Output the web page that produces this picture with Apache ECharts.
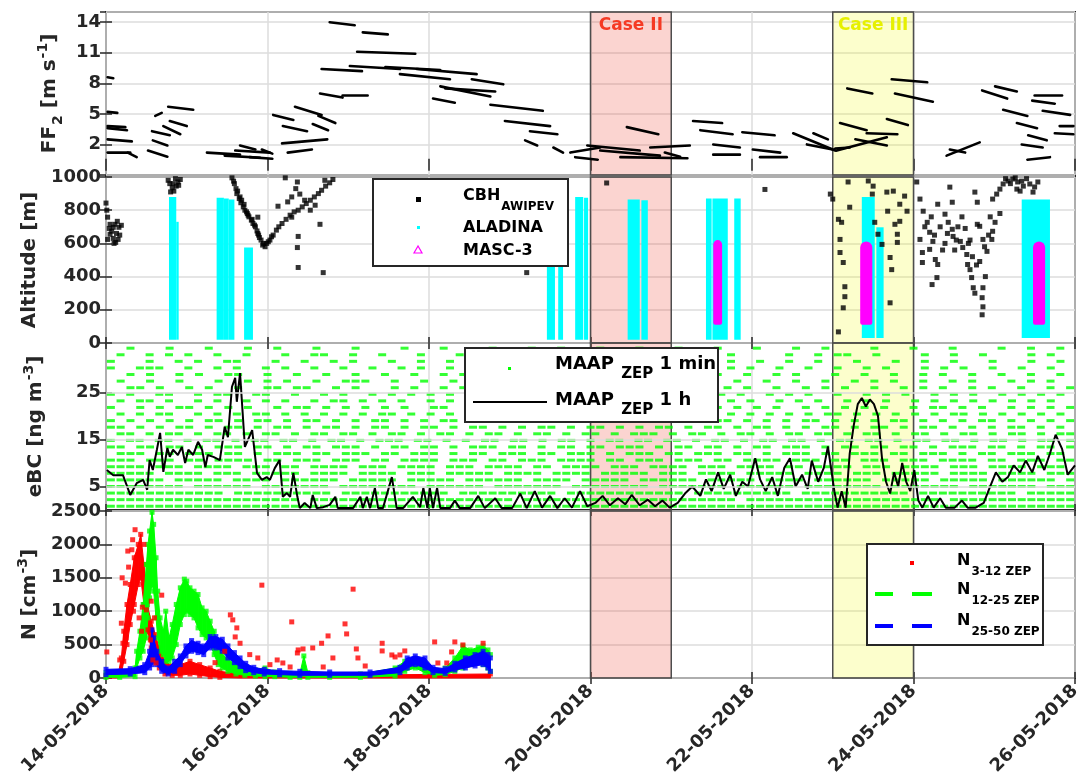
<!DOCTYPE html>
<html><head><meta charset="utf-8">
<script src="https://cdn.jsdelivr.net/npm/echarts@6/dist/echarts.min.js"></script>
<style>html,body{margin:0;padding:0;background:#fff}#c{width:1091px;height:782px}</style>
</head><body><div id="c"></div>
<script>
// ---------------- DATA (time in days since 14-05-2018 00:00) ----------------
const dateLabels = ['14-05-2018','16-05-2018','18-05-2018','20-05-2018','22-05-2018','24-05-2018','26-05-2018'];
const ffTicks = [2,5,8,11,14];
const ebcTicks = [5,15,25];
const caseAreas = [{name:'Case II', from:6, to:7}, {name:'Case III', from:9, to:10}];

// FF2 wind segments [tStart, vStart, tEnd, vEnd]
const windSegments = [
 [0.02,3.6,0.26,3.4],[0.02,3.8,0.24,3.7],[0.02,2.5,0.32,2.3],[0.02,1.2,0.30,1.2],[0.27,1.2,0.38,0.75],
 [0.02,8.6,0.09,8.5],[0.02,5.2,0.14,5.1],[0.61,4.8,0.69,5.1],[0.57,3.3,0.79,2.9],[0.71,3.8,0.92,3.0],
 [0.79,4.3,1.00,3.8],[0.77,5.7,1.08,5.4],[0.58,2.4,0.76,1.9],[0.52,1.4,0.76,0.8],
 [1.25,1.2,1.66,1.0],[1.47,0.9,1.91,0.7],[1.60,1.4,2.03,1.2],[1.66,1.9,1.85,1.5],[1.78,0.75,2.06,0.6],[1.93,1.5,2.06,1.1],
 [2.07,4.9,2.32,4.4],[2.18,2.1,2.74,2.5],[2.25,1.2,2.55,1.5],[2.19,3.8,2.49,3.3],[2.34,5.7,2.67,4.9],
 [2.56,4.0,2.75,3.4],[2.63,4.8,2.84,4.1],[2.65,7.0,2.93,6.6],[2.93,6.8,3.24,6.8],[2.67,9.4,3.17,9.2],
 [2.77,14.0,3.08,13.7],[3.18,13.0,3.49,12.8],[3.11,11.1,3.83,10.9],[3.02,9.7,3.64,9.4],[3.46,9.6,4.14,9.3],
 [3.64,8.9,4.26,8.4],[3.85,9.4,4.59,8.9],[4.53,8.4,4.92,7.9],[4.14,7.7,4.76,6.7],[4.20,7.5,4.82,7.2],
 [4.05,6.5,4.32,6.1],[4.76,5.9,5.41,5.3],[4.94,4.3,5.50,3.8],[5.25,3.3,5.59,3.0],[5.19,2.4,5.34,1.9],
 [5.54,1.7,5.66,1.2],[5.75,1.2,6.12,1.7],[5.81,0.75,6.09,0.5],[5.96,1.9,6.61,1.4],[6.12,1.4,6.86,0.9],
 [6.37,0.75,7.20,0.65],[6.45,3.7,6.84,3.0],[6.74,1.7,7.23,1.9],[6.92,1.2,7.11,0.8],[7.27,4.3,7.63,4.1],
 [7.36,3.4,7.76,3.0],[7.52,2.0,7.85,1.7],[7.52,1.0,7.85,1.0],[7.88,3.2,8.28,2.9],[8.01,1.5,8.35,1.2],
 [8.10,0.75,8.43,0.75],[8.51,3.1,9.03,1.4],[8.76,3.1,8.94,2.5],[8.68,2.0,9.00,1.5],[9.03,1.6,9.21,1.7],
 [9.05,1.4,9.67,2.7],[9.09,4.1,9.42,3.4],[9.42,3.1,9.80,3.0],[9.67,4.5,9.93,3.9],[9.18,7.5,9.49,7.0],
 [9.73,8.4,10.17,8.1],[9.77,7.0,10.24,6.2],[9.28,2.5,9.67,1.9],[10.41,0.9,10.82,2.2],[10.45,1.5,10.64,1.2],
 [10.85,7.3,11.16,6.5],[11.01,7.7,11.28,7.2],[11.11,5.4,11.41,4.8],[11.28,4.1,11.53,3.6],[11.34,2.0,11.60,1.7],
 [11.42,2.9,11.65,2.4],[11.41,0.5,11.69,0.75],[11.50,6.8,11.84,6.8],[11.47,6.3,11.75,6.0],[11.60,5.3,11.94,4.9],
 [11.75,3.1,11.98,3.0],[11.81,3.8,11.98,3.8]
];

// Cloud base height AWIPEV [t, m]
const cbhPoints = [
 [0.00,843],[0.01,800],[0.02,758],[0.05,715],[0.07,673],[0.09,697],[0.11,715],[0.14,733],[0.16,697],[0.19,709],
 [0.05,655],[0.09,630],[0.12,606],[0.15,624],[0.02,624],[0.04,690],[0.13,660],[0.17,650],[0.10,600],
 [0.77,980],[0.79,960],[0.82,935],[0.84,915],[0.87,945],[0.89,970],[0.92,985],[0.80,910],[0.86,990],[0.83,960],[0.90,950],
 [1.56,995],[1.59,960],[1.61,930],[1.62,900],[1.65,870],[1.67,845],[1.70,820],[1.72,800],[1.75,780],[1.77,760],
 [1.80,740],[1.82,720],[1.85,700],[1.87,675],[1.89,650],[1.92,620],[1.94,590],[1.97,580],[1.66,880],[1.74,790],
 [1.81,745],[1.88,660],[1.99,600],[2.03,620],[2.07,650],[2.11,680],[2.14,700],[2.18,720],[2.23,745],[2.28,770],
 [2.33,790],[2.38,800],[2.43,820],[2.48,840],[2.53,860],[2.58,880],[2.63,900],[2.67,920],[2.72,945],[2.77,965],
 [2.81,985],[2.22,995],[2.37,970],[2.40,897],[2.30,758],[2.38,642],[2.37,575],[2.38,455],[2.69,424],[2.65,715],
 [1.88,758],[2.13,824],[2.46,860],[2.53,800],[2.59,830],[2.71,980],[2.25,850],[2.30,880],[2.35,930],
 [1.58,975],[1.63,915],[1.68,860],[1.71,835],[1.76,770],[1.84,710],[1.90,635],[1.95,600],[2.01,610],[2.05,640],
 [5.21,424],[6.20,964],[8.16,925],[8.97,897],
 [9.00,867],[9.07,745],[9.09,624],[9.13,485],[9.15,339],[9.13,212],[9.07,67],[9.19,970],[9.21,818],[9.11,727],
 [9.09,545],[9.15,279],[9.44,976],[9.50,945],[9.49,897],[9.52,727],[9.56,655],[9.61,594],[9.67,909],[9.75,915],
 [9.68,794],[9.77,715],[9.80,655],[9.83,836],[9.89,885],[9.92,794],[9.71,515],[9.73,442],[9.71,242],[9.83,733],
 [9.80,606],[10.04,970],[10.08,867],[10.12,794],[10.17,727],[10.20,667],[10.24,612],[10.08,624],[10.11,545],[10.11,485],
 [10.20,564],[10.27,503],[10.30,473],[10.23,352],[10.29,394],[10.30,836],[10.39,776],[10.43,727],[10.48,685],[10.49,642],
 [10.48,848],[10.45,939],[10.58,612],[10.61,575],[10.66,533],[10.67,473],[10.70,442],[10.72,394],[10.74,333],[10.79,715],
 [10.82,703],[10.86,624],[10.91,552],[10.82,491],[10.89,400],[10.86,333],[10.85,273],[10.86,218],[10.85,170],[10.76,909],
 [10.79,848],[10.97,624],[10.98,673],[11.01,727],[10.98,867],[11.03,897],[11.07,927],[11.11,958],[11.17,976],[11.23,988],
 [11.29,970],[11.36,945],[11.44,958],[11.54,970],[11.48,909],[11.32,915],[11.28,927],[10.51,560],[10.55,700],[10.60,760],
 [10.39,600],[10.70,620],[10.76,300],[10.95,760],[11.07,780],[10.14,700],[10.22,760],[10.26,650],[10.33,700],[10.36,560],
 [10.42,660],[10.53,620],[10.64,690],[10.68,600],[10.73,520],[10.78,470],[10.88,580],[10.93,650],[11.14,990],[11.20,960],
 [11.26,995],[11.34,975],[11.40,990],[11.50,940]
];

// ALADINA profiles [tStart, tEnd, bottom m, top m]
const aladinaProfiles = [
 [0.78,0.87,20,880],[0.87,0.90,20,730],[1.37,1.46,20,875],[1.46,1.52,20,870],[1.52,1.59,20,865],
 [1.71,1.82,20,575],[5.46,5.56,20,870],[5.60,5.66,20,870],[5.81,5.91,20,880],[5.92,5.97,20,875],
 [6.46,6.61,20,865],[6.63,6.71,20,860],[7.43,7.50,20,870],[7.51,7.70,20,870],[7.78,7.86,20,870],
 [9.36,9.52,30,880],[9.54,9.63,30,697],[11.34,11.69,30,865]
];
// MASC-3 flights [tStart, tEnd, bottom m, top m]
const mascProfiles = [[7.52,7.63,110,620],[9.34,9.49,110,612],[11.48,11.63,110,612]];

// eBC MAAP 1 h [t] and [ng m-3]
const ebcHourT = [0.01,0.09,0.21,0.30,0.38,0.46,0.51,0.54,0.58,0.63,0.67,0.71,0.76,0.79,0.83,0.89,0.94,0.98,1.02,1.08,
 1.14,1.19,1.23,1.26,1.33,1.41,1.47,1.51,1.56,1.60,1.62,1.66,1.68,1.72,1.81,1.87,1.93,1.99,2.03,2.09,
 2.15,2.19,2.24,2.28,2.32,2.37,2.40,2.46,2.53,2.56,2.61,2.69,2.77,2.84,2.87,3.06,3.15,3.18,3.23,3.27,
 3.33,3.37,3.43,3.54,3.60,3.68,3.80,3.89,3.93,3.98,4.01,4.05,4.10,4.14,4.22,4.26,4.32,4.38,4.51,4.61,
 4.69,4.82,4.90,5.03,5.13,5.21,5.31,5.40,5.50,5.59,5.68,5.77,5.87,5.96,6.06,6.15,6.24,6.34,6.43,6.51,
 6.61,6.71,6.80,6.89,6.98,7.08,7.17,7.26,7.36,7.43,7.50,7.58,7.65,7.73,7.80,7.88,7.95,8.04,8.10,8.17,
 8.25,8.32,8.40,8.47,8.54,8.62,8.69,8.74,8.82,8.89,8.94,9.02,9.06,9.11,9.16,9.21,9.26,9.31,9.36,9.41,
 9.46,9.51,9.56,9.61,9.66,9.71,9.76,9.81,9.86,9.91,9.96,10.01,10.06,10.11,10.18,10.25,10.33,10.40,10.51,10.60,
 10.67,10.77,10.87,10.95,11.02,11.10,11.17,11.24,11.32,11.39,11.47,11.54,11.62,11.69,11.76,11.84,11.91,12.00];
const ebcHourV = [8.5,7.4,7.4,3.2,5.7,6.4,4.3,10.6,8.5,12.8,16.4,8.1,13.2,11.3,12.8,11.7,13.4,10.0,12.8,11.7,
 14.5,12.8,9.1,11.7,11.3,10.6,17.7,15.5,26.2,28.1,23.0,29.1,29.4,13.4,17.0,7.9,6.4,7.0,6.4,8.9,
 10.6,2.8,3.6,2.8,7.9,2.8,0.4,1.5,0.4,3.2,0.4,0.6,1.1,2.8,0.4,0.4,2.8,0.4,2.8,0.4,
 4.7,0.4,0.4,7.0,0.4,0.4,2.8,0.6,4.7,0.4,4.7,0.4,4.7,0.4,0.4,0.4,2.0,0.4,0.4,3.0,
 0.4,2.5,0.4,0.4,3.5,0.4,4.0,0.5,3.0,0.4,2.5,0.5,4.0,0.8,1.5,3.0,1.0,2.5,1.2,3.2,
 1.0,2.2,0.8,2.0,0.5,1.5,3.5,5.0,3.0,6.5,4.0,8.0,4.5,7.5,3.0,6.0,5.0,11.0,6.5,4.0,
 7.0,3.0,9.0,11.0,5.0,7.5,4.5,10.5,6.0,9.0,13.5,4.0,0.5,4.0,0.5,12.0,18.0,22.5,23.8,22.0,
 23.5,22.5,20.0,11.0,6.0,3.5,8.0,5.0,10.0,6.0,4.0,8.5,2.0,0.5,3.0,0.5,2.5,0.5,0.5,2.0,
 0.5,0.5,1.5,5.0,8.0,6.0,7.0,9.5,8.0,10.5,8.0,11.5,8.5,12.0,16.0,13.0,7.5,9.5];

// eBC MAAP 1 min: measured levels (ng m-3, top row first) and occupancy along time ('#' = record)
const ebcMinLevels = [34.4,33.0,31.6,30.2,28.8,27.4,26.0,24.6,23.2,21.8,20.4,19.0,17.6,16.2,14.8,13.4,12.0,10.6,9.2,7.8,6.4,5.0,3.6,2.2,0.8];
const ebcMinRows = [
"..#...#...#...#..#...#...#....#...#....#...#..#...#...#...#...#...#...#..#....#...#...#....#..#..#.",
".#..#.#.#..#..#...#..##..#..#...#...#...#..#..#...#..#.#..#...#.#.....#..#.##..#....#..#..#....#.#..",
"#...#..#.#..##...#..#..#.#...#..#..#....#...#..#.#...#...#...#..#..#..#..#...#...#..#..#...#...#..#.",
"#..###..#..#.#..#.#..#..#..#..#.#..#...#..#...#.#..#.#..#.#..#..#.#..#..#..#..#.#...#.#.#..#..#..#..",
"..#.#..#.#..##..#..#..#..#..#..#..#.#..#.#.#..#...#.#.#..#..#.#..#..#.#...#..#..#..#.#..#..#..#..#.",
".#..#..#...#..#.#.#..#..###..#..#..#..#..#...#..#.#.#..#..#..#..#..#..#..#..#.#.#..#..#.#...#.#.#..",
"..##.#..#.#..#..##.##..#.#...#.#..#.#..#.#.#..#.#..#.#.#..#..#.#.#..#..#.#.#..#..#.#.#..#.#..#..#.#",
"#.#..##..#.##..##..#..#.#..#.#.#.#.#..#.#..#..#..#.#.#..#..#.#.#.#..#.#.#..#..#.#.#..#.#.#..#.#.#.#.",
".#.##.#..#.#..#.#.#..#.##.#.#.#..#.#.#.#..#.#.#..#.#.#.#.#.#.#..#.#..#.#.#..#.#.#..#.#.#.#.#.#.#.#..",
"#..#.#.##.#.#.#..#.##.#.#.#.#.#..##..#.#.#.#.#..#.#.##.#.#.#..#.#.#.#..#.#.#.#.#..#.##.#.#..#.#.#.#",
".#.#.##..#.#.#.##.#.#.#.#.#.##.#.#.#.#.#.#.#.#.##.#.#.#.#.##..#.#.#.#.#.#.##.#.#.#.#.#.##.#.#.#.#.#.",
"#.#.#.#.#.##.#.##.#.##.#.#.##.#.#.##.#.##.#.#.#.##.#.##.#.#.#.##.#.#.#.##.#.#.#.##.#.#.#.##.#.#.#.#",
"##.#.#.##.#.##.#.##.#.##.#.##.#.##.#.##.#.#.##.#.##.#.#.##.#.##.#.##.#.#.##.#.##.#.##.#.#.#.##.#.#.",
".##.#.##.#.##.#.##.#.##.##.#.##.#.##.#.##.#.##.#.##.#.###.#.##.#.##.#.##.##.#.##.#.##.#.##.#.##.#.##",
"#.##.##.#.##.#.##.##.#.##.#.###.##.#.#.##.##.#.##.#.##.##.##.#.##.#.##.##.#.##.##.#.##.##.#.##.#.##.#",
"##.##.##.#.###.##.#.##.###.#.##.##.#.###.##.#.##.##.###.#.##.##.#.##.###.#.##.##.##.#.###.##.#.##.#",
".###.##.###.##.#.###.##.###.##.###.#.##.###.##.###.#.###.##.###.##.#.###.##.###.##.###.#.##.###.##.",
"###.###.##.####.##.###.###.##.####.###.##.###.####.##.###.###.##.####.###.##.###.###.####.##.###.##",
"####.###.####.###.##.####.###.####.###.####.##.####.###.####.###.####.##.####.###.####.###.####.###.",
"#####.####.###.#####.####.####.###.#####.####.####.#####.###.####.#####.####.###.#####.####.####.###",
"######.#####.####.######.#####.#####.######.####.#####.######.#####.####.######.#####.#####.######.#",
"########.######.#######.########.######.#######.########.#######.######.########.#######.#######.###",
"############.##########.###########.##########.############.##########.###########.##########.#####",
"####################.#####################.######################.####################.#############",
"####################################################################################################"
];

// Particle number concentration bands [t, lower cm-3, upper cm-3]
const n1225Band = [
 [0,10,80],[0.17,10,90],[0.36,20,150],[0.38,150,400],[0.42,300,700],[0.46,400,1100],[0.50,600,1700],[0.52,900,2000],
 [0.54,1200,2200],[0.57,1400,2480],[0.59,1300,2300],[0.62,900,1800],[0.64,600,1300],[0.67,400,900],[0.71,350,700],
 [0.74,250,1000],[0.78,250,600],[0.82,300,800],[0.87,500,1100],[0.92,800,1350],[0.97,950,1480],[1.00,1000,1450],
 [1.04,950,1350],[1.09,900,1300],[1.14,750,1250],[1.19,650,1050],[1.24,600,1000],[1.29,500,850],[1.34,350,700],
 [1.39,200,450],[1.44,150,350],[1.51,100,280],[1.61,60,200],[1.72,40,150],[1.85,30,120],[1.97,20,150],[2.09,20,90],
 [2.28,10,70],[2.40,10,60],[2.45,50,330],[2.50,10,80],[2.77,10,60],[3.15,10,60],[3.58,30,150],[3.70,100,250],
 [3.83,150,280],[3.95,80,200],[4.07,40,100],[4.20,50,150],[4.32,100,300],[4.42,150,480],[4.51,200,420],
 [4.61,250,460],[4.67,200,480],[4.73,150,420],[4.76,100,350]
];
const n2550Band = [
 [0,50,130],[0.30,60,140],[0.48,80,200],[0.54,150,400],[0.57,200,720],[0.59,250,600],[0.63,200,400],[0.69,100,250],
 [0.77,60,150],[0.85,100,250],[0.92,200,330],[0.99,330,480],[1.06,400,560],[1.14,380,520],[1.21,350,480],
 [1.29,450,620],[1.36,450,620],[1.44,400,580],[1.51,300,480],[1.59,230,380],[1.66,170,300],[1.73,110,220],
 [1.83,80,160],[1.96,60,130],[2.15,50,110],[2.40,40,100],[2.77,40,90],[3.27,40,90],[3.64,80,160],[3.73,150,300],
 [3.83,200,330],[3.95,150,300],[4.05,80,160],[4.20,70,140],[4.32,120,220],[4.45,150,300],[4.57,180,350],
 [4.67,200,400],[4.73,150,350],[4.76,100,300]
];
const n312Band = [
 [0,0,40],[0.15,0,50],[0.19,60,300],[0.22,250,700],[0.26,500,1100],[0.30,800,1400],[0.35,1100,1800],[0.40,1400,2000],
 [0.43,1500,2150],[0.47,1100,1700],[0.51,700,1100],[0.56,450,850],[0.61,300,650],[0.66,150,450],[0.73,60,250],
 [0.82,40,180],[0.92,40,200],[1.04,60,250],[1.16,40,200],[1.29,20,150],[1.41,10,100],[1.66,0,60],[2.40,0,40],
 [3.64,0,50],[4.76,0,60]
];
const n312Scatter = [
 [0.01,390],[0.69,1240],[1.54,945],[1.57,870],[1.62,750],[1.60,615],[1.66,520],[1.93,1390],[1.88,300],[2.12,270],
 [2.30,840],[2.37,375],[2.28,165],[3.06,1330],[2.75,630],[2.67,520],[2.56,450],[2.38,420],[2.44,435],[2.96,810],
 [2.98,660],[3.10,435],[3.12,300],[2.81,300],[3.42,520],[3.42,405],[3.54,345],[3.58,315],[3.64,345],[3.70,405],
 [4.07,540],[4.32,540],[4.28,390],[4.42,495],[4.67,520],[4.11,225],[4.22,225],[2.69,165],[3.21,180],[2.19,225],
 [1.78,350],[1.35,230],[1.47,400],[2.03,200],
 [0.17,270],[0.19,820],[0.21,520],[0.24,1420],[0.25,600],[0.28,1660],[0.32,1920],[0.33,2070],[0.36,2220],[0.38,1810],
 [0.45,1060],[0.47,2000],[0.50,1020],[0.52,720],[0.55,570],[0.58,270],[0.62,225],[0.20,1500],[0.27,1900],[0.34,1000],
 [0.41,900],[0.44,700],[0.56,1150],[0.60,900]
];

// ---------------- STYLE / LAYOUT ----------------
const FONT = "'DejaVu Sans', sans-serif";
const INK = '#262626';
const GRIDC = '#dcdcdc';
const panels = [{top:12,height:163},{top:177,height:166},{top:343,height:167},{top:511,height:167}];
const L = 106, R = 16;

function richSet(main, small, pMain, pSub, pSup) {
  const base = {fontFamily: FONT, fontWeight: 'bold', color: INK, verticalAlign: 'top'};
  return {
    m: Object.assign({}, base, {fontSize: main, lineHeight: main + 2, padding: [pMain, 0, 0, 0]}),
    sub: Object.assign({}, base, {fontSize: small, lineHeight: small + 1, padding: [pSub, 0, 0, 1]}),
    sup: Object.assign({}, base, {fontSize: small, lineHeight: small + 1, padding: [pSup, 0, 0, 1]})
  };
}
const nameRich = richSet(20, 14, 6, 17, 2);

const yCfg = [
  {min:-1, max:15, interval:3, fmt: v => (ffTicks.indexOf(v) >= 0 ? String(v) : ''), name:'{m|FF}{sub|2}{m| [m s}{sup|-1}{m|]}', gap:46},
  {min:0, max:1000, interval:200, fmt: v => String(v), name:'{m|Altitude [m]}', gap:64},
  {min:0, max:35.5, custom: ebcTicks, fmt: v => String(v), name:'{m|eBC [ng m}{sup|-3}{m|]}', gap:64},
  {min:0, max:2500, interval:500, fmt: v => String(v), name:'{m|N [cm}{sup|-3}{m|]}', gap:64}
];

const grid = panels.map(p => ({left:L, right:R, top:p.top, height:p.height, show:true, borderColor:INK, borderWidth:2, backgroundColor:'transparent'}));

const xAxis = [];
for (let i = 0; i < 4; i++) {
  xAxis.push({
    type:'value', gridIndex:i, min:0, max:12, interval:2,
    axisLine:{show:false},
    axisTick:{show:true, inside:true, length:6, lineStyle:{color:INK, width:1.5}},
    splitLine:{show:true, lineStyle:{color:GRIDC, width:1.5}},
    axisLabel: i === 3 ? {show:true, rotate:45, margin:10, fontFamily:FONT, fontWeight:'bold', fontSize:18, color:INK,
      formatter: v => dateLabels[Math.round(v / 2)]} : {show:false}
  });
}
for (let i = 0; i < 4; i++) {
  xAxis.push({type:'value', gridIndex:i, position:'top', min:0, max:12, interval:2, axisLine:{show:false},
    axisTick:{show:true, inside:true, length:6, lineStyle:{color:INK, width:1.5}}, splitLine:{show:false}, axisLabel:{show:false}});
}
const yAxis = [];
for (let i = 0; i < 4; i++) {
  const c = yCfg[i];
  const ax = {
    type:'value', gridIndex:i, min:c.min, max:c.max,
    axisLine:{show:false},
    axisTick:{show:true, inside:true, length:6, lineStyle:{color:INK, width:1.5}},
    splitLine:{show:!c.custom, lineStyle:{color:GRIDC, width:1.5}},
    axisLabel:{show:true, margin:5, fontFamily:FONT, fontWeight:'bold', fontSize:18, color:INK, formatter:c.fmt,
      showMinLabel: i !== 0, showMaxLabel: i !== 0},
    name:c.name, nameLocation:'middle', nameRotate:90, nameGap:c.gap,
    nameTextStyle:{rich:nameRich}
  };
  if (c.custom) { ax.axisTick.customValues = c.custom; ax.axisLabel.customValues = c.custom; }
  else ax.interval = c.interval;
  yAxis.push(ax);
}
for (let i = 0; i < 4; i++) {
  const c = yCfg[i];
  const ax = {type:'value', gridIndex:i, position:'right', min:c.min, max:c.max, axisLine:{show:false},
    axisTick:{show:true, inside:true, length:6, lineStyle:{color:INK, width:1.5}}, splitLine:{show:false}, axisLabel:{show:false}};
  if (c.custom) { ax.axisTick.customValues = c.custom; ax.axisLabel.customValues = c.custom; }
  else ax.interval = c.interval;
  yAxis.push(ax);
}

// ---------------- SERIES ----------------
const series = [];
// eBC grid lines at the custom ticks (below the data)
series.push({type:'scatter', xAxisIndex:2, yAxisIndex:2, data:[], z:1, silent:true,
  markLine:{silent:true, symbol:'none', label:{show:false}, lineStyle:{color:GRIDC, width:1.5, type:'solid'},
    data: ebcTicks.map(v => ({yAxis:v}))}});
// FF2 segments
series.push({
  type:'custom', xAxisIndex:0, yAxisIndex:0, data:windSegments, encode:{x:[0,2], y:[1,3]}, silent:true,
  renderItem:(params, api) => {
    const a = api.coord([api.value(0), api.value(1)]);
    const b = api.coord([api.value(2), api.value(3)]);
    return {type:'line', shape:{x1:a[0], y1:a[1], x2:b[0], y2:b[1]}, style:{stroke:'#000', lineWidth:2.6, lineCap:'round'}};
  }
});
// ALADINA & MASC-3
function profileSeries(data, color, round) {
  return {
    type:'custom', xAxisIndex:1, yAxisIndex:1, data:data, encode:{x:[0,1], y:[2,3]}, silent:true,
    renderItem:(params, api) => {
      const a = api.coord([api.value(0), api.value(3)]);
      const b = api.coord([api.value(1), api.value(2)]);
      const w = b[0] - a[0];
      return {type:'rect', shape:{x:a[0], y:a[1], width:w, height:b[1]-a[1], r: round ? [w/2, w/2, 2, 2] : 0}, style:{fill:color}};
    }
  };
}
series.push(profileSeries(aladinaProfiles, '#00ffff', false));
series.push(profileSeries(mascProfiles, '#ff00ff', true));
series.push({type:'scatter', xAxisIndex:1, yAxisIndex:1, data:cbhPoints, symbol:'rect', symbolSize:5, itemStyle:{color:'#000'}, silent:true});

// eBC 1 min
const ebcMin = [];
ebcMinRows.forEach((row, k) => {
  for (let j = 0; j < row.length; j++) {
    if (row[j] === '#') ebcMin.push([(j + 0.5) * 12 / row.length, ebcMinLevels[k]]);
  }
});
series.push({type:'scatter', xAxisIndex:2, yAxisIndex:2, data:ebcMin, symbol:'rect', symbolSize:[8,3], itemStyle:{color:'#00ff00'}, silent:true});
series.push({type:'line', xAxisIndex:2, yAxisIndex:2, data:ebcHourT.map((t, i) => [t, ebcHourV[i]]), showSymbol:false,
  lineStyle:{color:'#000', width:2}, silent:true, z:3});

// N bands
function bandSeries(band, color, z) {
  return {
    type:'custom', xAxisIndex:3, yAxisIndex:3, data:band, encode:{x:0, y:[1,2]}, silent:true, z:z,
    renderItem:(params, api) => {
      const i = params.dataIndex;
      if (i >= band.length - 1) return {type:'group', children:[]};
      const n = band[i + 1];
      const pts = [api.coord([band[i][0], band[i][1]]), api.coord([band[i][0], band[i][2]]),
                   api.coord([n[0], n[2]]), api.coord([n[0], n[1]])];
      return {type:'polygon', shape:{points:pts}, style:{fill:color, stroke:color, lineWidth:1}};
    }
  };
}
function edgeSeries(band, color, z) {
  const pts = [];
  band.forEach(b => { if (b[1] > 0) pts.push([b[0], b[1]]); pts.push([b[0], b[2]]); });
  return {type:'scatter', xAxisIndex:3, yAxisIndex:3, data:pts, symbol:'rect', symbolSize:5, itemStyle:{color:color}, silent:true, z:z};
}
series.push(bandSeries(n312Band, '#ff0000', 2), edgeSeries(n312Band, '#ff0000', 2));
series.push(bandSeries(n1225Band, '#00ff00', 2.1), edgeSeries(n1225Band, '#00ff00', 2.1));
series.push(bandSeries(n2550Band, '#0000ff', 2.2), edgeSeries(n2550Band, '#0000ff', 2.2));
series.push({type:'scatter', xAxisIndex:3, yAxisIndex:3, data:n312Scatter, symbol:'rect', symbolSize:5, itemStyle:{color:'#ff0000'}, silent:true, z:2.3});

// Case overlays (drawn on top, semi-transparent)
const caseStyle = {
  'Case II': {fill:'rgba(235,60,40,0.22)', text:'#f53a24'},
  'Case III': {fill:'rgba(240,250,0,0.2)', text:'#e6f000'}
};
for (let g = 0; g < 4; g++) {
  series.push({
    type:'scatter', xAxisIndex:g, yAxisIndex:g, data:[], z:5, silent:true,
    markArea:{silent:true, data: caseAreas.map(c => [
      {name:c.name, xAxis:c.from,
       itemStyle:{color:caseStyle[c.name].fill, borderColor:'#4d4d4d', borderWidth:1.5},
       label:{show: g === 0, position:'insideTop', distance:6, color:caseStyle[c.name].text, fontFamily:FONT, fontWeight:'bold', fontSize:17}},
      {xAxis:c.to}
    ])}
  });
}

// ---------------- LEGEND BOXES ----------------
const r16 = richSet(16, 12, 0, 13, 0);
const r18 = richSet(18, 15, 0, 12, 0);
function txt(x, yc, text, rich, main) {
  return {type:'text', x:x, y:yc - (main + 2) / 2, z:101, style:{text:text, rich:rich, align:'left', verticalAlign:'top'}};
}
const graphic = [
  {type:'rect', z:100, shape:{x:373, y:179, width:195, height:87}, style:{fill:'#fff', stroke:INK, lineWidth:2}},
  {type:'rect', z:101, shape:{x:416, y:197, width:5, height:5}, style:{fill:'#000'}},
  {type:'rect', z:101, shape:{x:417, y:226, width:3, height:3}, style:{fill:'#00ffff'}},
  {type:'polygon', z:101, shape:{points:[[418,246],[414,253],[422,253]]}, style:{fill:'none', stroke:'#ff00ff', lineWidth:1.2}},
  txt(463, 197, '{m|CBH}{sub|AWIPEV}', r16, 16),
  txt(463, 229, '{m|ALADINA}', r16, 16),
  txt(463, 252, '{m|MASC-3}', r16, 16),

  {type:'rect', z:100, shape:{x:465, y:348, width:253, height:74}, style:{fill:'#fff', stroke:INK, lineWidth:2}},
  {type:'rect', z:101, shape:{x:508, y:367, width:3, height:3}, style:{fill:'#00ff00'}},
  {type:'line', z:101, shape:{x1:473, y1:402, x2:547, y2:402}, style:{stroke:'#000', lineWidth:2}},
  txt(555, 365, '{m|MAAP }{sub|ZEP}{m| 1 min}', r18, 18),
  txt(555, 401, '{m|MAAP }{sub|ZEP}{m| 1 h}', r18, 18),

  {type:'rect', z:100, shape:{x:867, y:544, width:176, height:101}, style:{fill:'#fff', stroke:INK, lineWidth:2}},
  {type:'rect', z:101, shape:{x:910, y:561, width:4, height:4}, style:{fill:'#ff0000'}},
  {type:'rect', z:101, shape:{x:875, y:592, width:18, height:4}, style:{fill:'#00ff00'}},
  {type:'rect', z:101, shape:{x:912, y:592, width:20, height:4}, style:{fill:'#00ff00'}},
  {type:'rect', z:101, shape:{x:875, y:624, width:18, height:4}, style:{fill:'#0000ff'}},
  {type:'rect', z:101, shape:{x:912, y:624, width:20, height:4}, style:{fill:'#0000ff'}},
  txt(957, 562, '{m|N}{sub|3-12 ZEP}', r16, 16),
  txt(957, 591, '{m|N}{sub|12-25 ZEP}', r16, 16),
  txt(957, 622, '{m|N}{sub|25-50 ZEP}', r16, 16)
];

const chart = echarts.init(document.getElementById('c'), null, {renderer:'canvas'});
chart.setOption({animation:false, backgroundColor:'#fff', grid, xAxis, yAxis, series, graphic});
</script></body></html>
